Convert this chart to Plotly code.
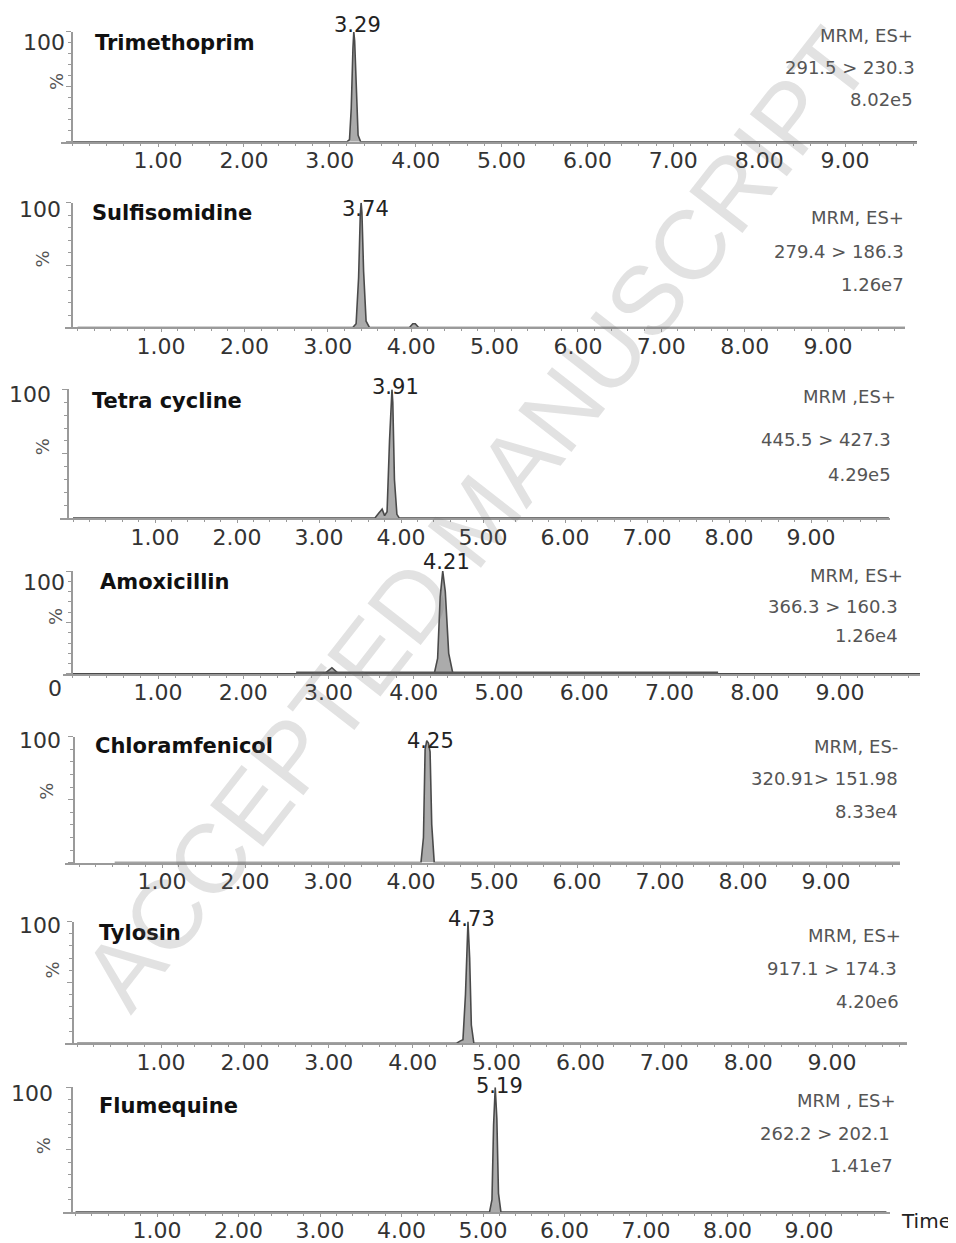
import plotly.graph_objects as go

# page body has an 8px margin: the figure is sized to the remaining area
OFF = 8
W, H = 956 - OFF, 1243 - OFF

# ---------------- data ----------------
compounds = ["Trimethoprim", "Sulfisomidine", "Tetra cycline", "Amoxicillin",
             "Chloramfenicol", "Tylosin", "Flumequine"]
peak_labels = ["3.29", "3.74", "3.91", "4.21", "4.25", "4.73", "5.19"]
mode_lines = ["MRM, ES+", "MRM, ES+", "MRM ,ES+", "MRM, ES+", "MRM, ES-", "MRM, ES+", "MRM , ES+"]
transitions = ["291.5 > 230.3", "279.4 > 186.3", "445.5 > 427.3", "366.3 > 160.3",
               "320.91> 151.98", "917.1 > 174.3", "262.2 > 202.1"]
intensities = ["8.02e5", "1.26e7", "4.29e5", "1.26e4", "8.33e4", "4.20e6", "1.41e7"]
x_tick_vals = [1, 2, 3, 4, 5, 6, 7, 8, 9]
x_tick_text = ["1.00", "2.00", "3.00", "4.00", "5.00", "6.00", "7.00", "8.00", "9.00"]

t_trimethoprim = [0.00, 3.20, 3.23, 3.25, 3.27, 3.28, 3.29, 3.31, 3.33, 3.36, 9.95]
i_trimethoprim = [0, 0, 2, 30, 85, 100, 92, 40, 6, 0, 0]

t_sulfisomidine = [0.00, 3.30, 3.34, 3.37, 3.39, 3.40, 3.41, 3.43, 3.46, 3.50, 3.98, 4.02, 4.05, 4.09, 9.95]
i_sulfisomidine = [0, 0, 3, 40, 90, 100, 92, 45, 5, 0, 0, 3, 3, 0, 0]

t_tetracycline = [0.00, 3.68, 3.73, 3.77, 3.80, 3.83, 3.86, 3.88, 3.89, 3.90, 3.92, 3.95, 3.98, 9.95]
i_tetracycline = [0, 0, 4, 7, 2, 5, 60, 95, 100, 90, 30, 3, 0, 0]

t_amoxicillin = [0.00, 2.95, 3.04, 3.12, 4.24, 4.28, 4.31, 4.34, 4.37, 4.41, 4.46, 9.95]
i_amoxicillin = [0, 0, 6, 0, 0, 15, 75, 100, 80, 20, 0, 0]
t_amox_noise = [2.62, 7.57]
i_amox_noise = [0.6, 0.6]

t_chloramfenicol = [0.43, 4.12, 4.15, 4.17, 4.19, 4.21, 4.23, 4.25, 4.28, 9.95]
i_chloramfenicol = [0, 0, 20, 90, 97, 95, 88, 30, 0, 0]

t_tylosin = [0.00, 4.52, 4.57, 4.60, 4.63, 4.65, 4.66, 4.68, 4.70, 4.73, 9.95]
i_tylosin = [0, 0, 2, 3, 40, 92, 100, 70, 15, 0, 0]

t_flumequine = [0.00, 5.08, 5.11, 5.13, 5.15, 5.17, 5.19, 5.22, 9.95]
i_flumequine = [0, 0, 10, 70, 100, 75, 15, 0, 0]

series_t = [t_trimethoprim, t_sulfisomidine, t_tetracycline, t_amoxicillin,
            t_chloramfenicol, t_tylosin, t_flumequine]
series_i = [i_trimethoprim, i_sulfisomidine, i_tetracycline, i_amoxicillin,
            i_chloramfenicol, i_tylosin, i_flumequine]

# ---------------- layout (page pixel positions, styles) ----------------
panels = [
    dict(top=32, base=142, yax=72, xl=61, xr=917, t1=158, t9=845,
         name=(93, 43), lab_y=25, pct=(57, 82), hund=(67, 43), rx=(915, 917, 915), ry=(36, 68, 100)),
    dict(top=203, base=328, yax=72, xl=65, xr=905, t1=161, t9=828,
         name=(90, 213), lab_y=209, pct=(43, 260), hund=(63, 210), rx=(906, 906, 906), ry=(218, 252, 285)),
    dict(top=390, base=519, yax=68, xl=60, xr=890, t1=155, t9=811,
         name=(90, 402), lab_y=388, pct=(42, 448), hund=(53, 395), rx=(898, 893, 893), ry=(397, 440, 475)),
    dict(top=572, base=675, yax=72, xl=63, xr=920, t1=158, t9=840,
         name=(98, 583), lab_y=563, pct=(55, 618), hund=(67, 583), rx=(905, 900, 900), ry=(576, 607, 637)),
    dict(top=738, base=864, yax=74, xl=65, xr=900, t1=162, t9=826,
         name=(93, 747), lab_y=742, pct=(47, 793), hund=(63, 742), rx=(900, 900, 900), ry=(748, 780, 813)),
    dict(top=923, base=1045, yax=73, xl=65, xr=907, t1=161, t9=832,
         name=(97, 935), lab_y=920, pct=(52, 972), hund=(63, 927), rx=(903, 899, 901), ry=(937, 970, 1003)),
    dict(top=1089, base=1214, yax=72, xl=63, xr=890, t1=157, t9=809,
         name=(97, 1108), lab_y=1088, pct=(43, 1148), hund=(55, 1095), rx=(898, 892, 895), ry=(1102, 1135, 1167)),
]

FONT = "DejaVu Sans"
AXC = "#9a9a9a"
fig = go.Figure()
annotations = []

def px(xp):
    return (xp - OFF) / W

def py(yp):
    return 1 - (yp - OFF) / H

for k, p in enumerate(panels):
    n = k + 1
    xa = "x" if n == 1 else f"x{n}"
    ya = "y" if n == 1 else f"y{n}"
    xkey = "xaxis" if n == 1 else f"xaxis{n}"
    ykey = "yaxis" if n == 1 else f"yaxis{n}"
    scale = (p["t9"] - p["t1"]) / 8.0
    zero = p["t1"] - scale
    xr = [(p["xl"] - zero) / scale, (p["xr"] - zero) / scale]

    fig.add_trace(go.Scatter(x=series_t[k], y=series_i[k], mode="lines",
                             line=dict(color="#4a4a4a", width=1.6),
                             fill="tozeroy", fillcolor="rgba(150,150,150,0.8)",
                             xaxis=xa, yaxis=ya, showlegend=False, hoverinfo="skip"))
    if k == 3:
        fig.add_trace(go.Scatter(x=t_amox_noise, y=i_amox_noise, mode="lines",
                                 line=dict(color="#555555", width=3.5),
                                 xaxis=xa, yaxis=ya, showlegend=False, hoverinfo="skip"))

    fig.layout[xkey] = dict(
        domain=[px(p["xl"]), px(p["xr"])], range=xr, anchor=ya,
        showline=True, linecolor=AXC, linewidth=2, showgrid=False, zeroline=False,
        tickmode="array", tickvals=x_tick_vals, ticktext=x_tick_text,
        ticks="outside", ticklen=3, tickcolor=AXC, tickwidth=1,
        minor=dict(dtick=0.2, tick0=0, ticks="outside", ticklen=2, tickcolor=AXC),
        tickfont=dict(family=FONT, size=22, color="#333333"),
        ticklabelstandoff=-5,
    )
    fig.layout[ykey] = dict(
        domain=[py(p["base"]), py(p["top"])], range=[0, 100], anchor="free",
        position=px(p["yax"]),
        showline=True, linecolor=AXC, linewidth=2, showgrid=False, zeroline=False,
        tickmode="array", tickvals=[0, 50, 100], showticklabels=False,
        ticks="outside", ticklen=5, tickcolor=AXC,
        minor=dict(dtick=10, tick0=0, ticks="outside", ticklen=3, tickcolor=AXC),
    )

    # compound name
    annotations.append(dict(text=compounds[k], x=px(p["name"][0]), y=py(p["name"][1]),
                            xref="paper", yref="paper", xanchor="left", yanchor="middle",
                            showarrow=False, font=dict(family=FONT, size=21, color="#111111",
                                                       weight="bold")))
    # peak label at apex
    imax = max(range(len(series_i[k])), key=lambda j: series_i[k][j])
    annotations.append(dict(text=peak_labels[k], x=series_t[k][imax], y=py(p["lab_y"]),
                            xref=xa, yref="paper", xanchor="center", yanchor="middle", xshift=4,
                            showarrow=False, font=dict(family=FONT, size=21, color="#222222")))
    # right-hand info
    for line_txt, rxp, ryp in zip([mode_lines[k], transitions[k], intensities[k]], p["rx"], p["ry"]):
        annotations.append(dict(text=line_txt, x=px(rxp), y=py(ryp), xref="paper", yref="paper",
                                xanchor="right", yanchor="middle", showarrow=False,
                                font=dict(family=FONT, size=18, color="#555555")))
    # % label
    annotations.append(dict(text="%", x=px(p["pct"][0]), y=py(p["pct"][1]), xref="paper",
                            yref="paper", xanchor="center", yanchor="middle", textangle=-90,
                            showarrow=False, font=dict(family=FONT, size=18, color="#555555")))
    # 100 label
    annotations.append(dict(text="100", x=px(p["hund"][0]), y=py(p["hund"][1]), xref="paper",
                            yref="paper", xanchor="right", yanchor="middle",
                            showarrow=False, font=dict(family=FONT, size=22, color="#333333")))
    if k == 3:
        annotations.append(dict(text="0", x=px(55), y=py(690), xref="paper", yref="paper",
                                xanchor="center", yanchor="middle", showarrow=False,
                                font=dict(family=FONT, size=22, color="#333333")))

annotations.append(dict(text="Time", x=px(899), y=py(1223), xref="paper", yref="paper",
                        xanchor="left", yanchor="middle", showarrow=False,
                        font=dict(family=FONT, size=20, color="#222222")))

# watermark
annotations.append(dict(text="ACCEPTED MANUSCRIPT", x=px(476), y=py(520), xref="paper", yref="paper",
                        xanchor="center", yanchor="middle", textangle=-52, showarrow=False,
                        font=dict(family="Liberation Sans", size=98, color="rgba(110,110,110,0.2)")))

fig.update_layout(width=W, height=H, margin=dict(l=0, r=0, t=0, b=0),
                  paper_bgcolor="white", plot_bgcolor="white",
                  annotations=annotations, showlegend=False)

fig.write_html("out.html")
